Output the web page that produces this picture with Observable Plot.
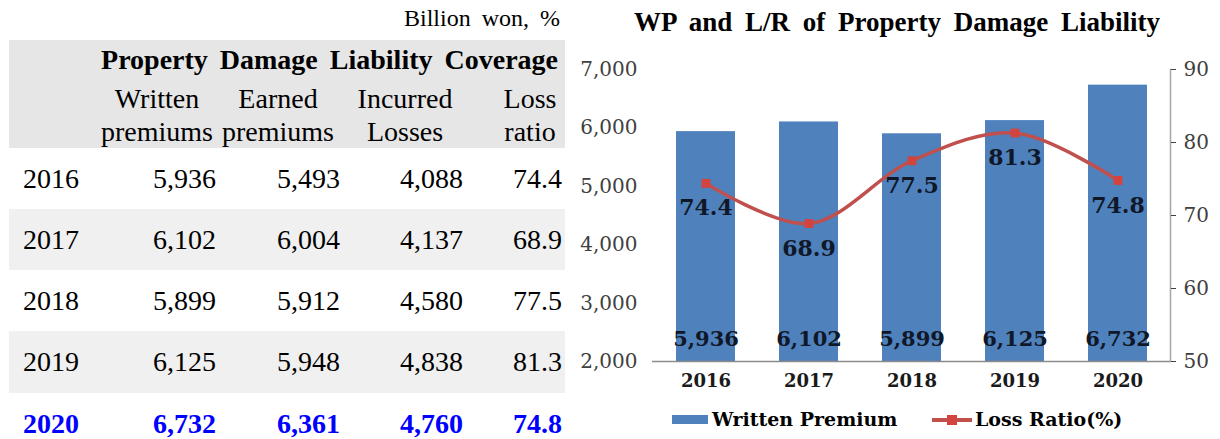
<!DOCTYPE html>
<html><head><meta charset="utf-8">
<script src="https://cdn.jsdelivr.net/npm/d3@7"></script>
<script src="https://cdn.jsdelivr.net/npm/@observablehq/plot@0.6"></script>
<style>
body{margin:0;background:#fff;}
#root{position:relative;width:1220px;height:439px;overflow:hidden;font-family:"Liberation Serif","Times New Roman",serif;color:#000;}
.abs{position:absolute;white-space:nowrap;}
#chart{position:absolute;left:570px;top:50px;}
</style></head><body><div id="root"></div>
<script>
const years = ["2016","2017","2018","2019","2020"];
const writtenPremiums = [5936,6102,5899,6125,6732];
const earnedPremiums = [5493,6004,5912,5948,6361];
const incurredLosses = [4088,4137,4580,4838,4760];
const lossRatio = [74.4,68.9,77.5,81.3,74.8];
const tableUnit = "Billion won, %";
const tableTitle = "Property Damage Liability Coverage";
const columnHeads = [["Written","premiums"],["Earned","premiums"],["Incurred","Losses"],["Loss","ratio"]];
const chartTitle = "WP and L/R of Property Damage Liability";
const seriesNames = ["Written Premium","Loss Ratio(%)"];
const leftTicks = [2000,3000,4000,5000,6000,7000];
const rightTicks = [50,60,70,80,90];

const root = document.getElementById("root");
function box(css){const d=document.createElement("div");d.className="abs";Object.assign(d.style,css);root.appendChild(d);return d;}
function text(str,{cx,left,right,cy,size,weight="normal",color="#000",family,spacing}){
  const lh=size*1.3;
  const css={top:(cy-lh/2)+"px",lineHeight:lh+"px",fontSize:size+"px",fontWeight:weight,color};
  if(family)css.fontFamily=family;
  if(spacing)css.wordSpacing=spacing+"px";
  if(cx!=null){css.left=(cx-300)+"px";css.width="600px";css.textAlign="center";}
  else if(right!=null){css.right=(1220-right)+"px";css.textAlign="right";}
  else css.left=left+"px";
  const d=box(css);d.textContent=str;return d;
}

// ---- table ----
const fmt = d3.format(",");
text(tableUnit,{right:560,cy:19,size:24,spacing:5});
box({left:"9px",top:"40px",width:"556px",height:"108px",background:"#e6e6e6"});
text(tableTitle,{right:558,cy:60,size:28,weight:"bold",spacing:5});
const headCx=[157,278,405,530];
columnHeads.forEach((h,i)=>{text(h[0],{cx:headCx[i],cy:99,size:28});text(h[1],{cx:headCx[i],cy:132,size:28});});
const rowTop=[148,209,270,331,393];
const rowH=61;
const colRight=[216,340,463,562];
years.forEach((y,i)=>{
  if(i%2===1)box({left:"9px",top:rowTop[i]+"px",width:"556px",height:(i===3?62:61)+"px",background:"#f0f0f0"});
  const last=i===years.length-1;
  const st={size:28,weight:last?"bold":"normal",color:last?"#0000ff":"#000"};
  const cy=rowTop[i]+rowH/2+1;
  text(y,{left:23,cy,...st});
  text(fmt(writtenPremiums[i]),{right:colRight[0],cy,...st});
  text(fmt(earnedPremiums[i]),{right:colRight[1],cy,...st});
  text(fmt(incurredLosses[i]),{right:colRight[2],cy,...st});
  text(lossRatio[i].toFixed(1),{right:colRight[3],cy,...st});
});

// ---- chart ----
text(chartTitle,{cx:897,cy:23,size:27,weight:"bold",spacing:6});
const lr2y = d3.scaleLinear().domain([50,90]).range([2000,7000]);
const data = years.map((y,i)=>({year:y, wp:writtenPremiums[i], lr:lossRatio[i], lrY:lr2y(lossRatio[i])}));
const chart = Plot.plot({
  width:650, height:350, marginLeft:82, marginRight:50, marginTop:19, marginBottom:39,
  style:{fontFamily:"'DejaVu Serif', serif", background:"transparent", overflow:"visible"},
  x:{domain:years, paddingInner:0.43, paddingOuter:0.215, label:null},
  y:{domain:[2000,7000], label:null},
  marks:[
    Plot.barY(data,{x:"year", y1:2000, y2:"wp", fill:"#4f81bd"}),
    Plot.ruleY([2000],{stroke:"#8c8c8c", strokeWidth:1.5}),
    Plot.frame({anchor:"right", stroke:"#a6a6a6", strokeWidth:1.5}),
    Plot.axisY(leftTicks,{anchor:"left", tickSize:0, tickPadding:15, tickFormat:d3.format(","), fontSize:20, color:"#404040", label:null}),
    Plot.axisY(rightTicks.map(lr2y),{anchor:"right", tickSize:5, tickPadding:8, tickFormat:d=>Math.round(lr2y.invert(d)), fontSize:20, color:"#404040", label:null}),
    Plot.axisX({tickSize:0, tickPadding:13, fontSize:18, fontWeight:"bold", color:"#1a1a1a", label:null}),
    Plot.line(data,{x:"year", y:"lrY", stroke:"#c0504d", strokeWidth:3.5, curve:"catmull-rom"}),
    Plot.dot(data,{x:"year", y:"lrY", symbol:"square", r:5, fill:"#d3443e", stroke:null}),
    Plot.text(data,{x:"year", y:2000, dy:-22, text:d=>fmt(d.wp), fontSize:21, fontWeight:"bold", fill:"#101828"}),
    Plot.text(data,{x:"year", y:"lrY", dy:25, text:d=>d.lr.toFixed(1), fontSize:22, fontWeight:"bold", fill:"#101828"})
  ]
});
chart.id="chart";
root.appendChild(chart);

// ---- legend ----
box({left:"672px",top:"415px",width:"36px",height:"9px",background:"#4f81bd"});
text(seriesNames[0],{left:712,cy:419,size:19,weight:"bold",family:"'DejaVu Serif', serif"});
box({left:"932px",top:"418px",width:"40px",height:"3.5px",background:"#c0504d"});
box({left:"947px",top:"414.5px",width:"10px",height:"10px",background:"#d3443e"});
text(seriesNames[1],{left:975,cy:419,size:19,weight:"bold",family:"'DejaVu Serif', serif"});
</script>
</body></html>
